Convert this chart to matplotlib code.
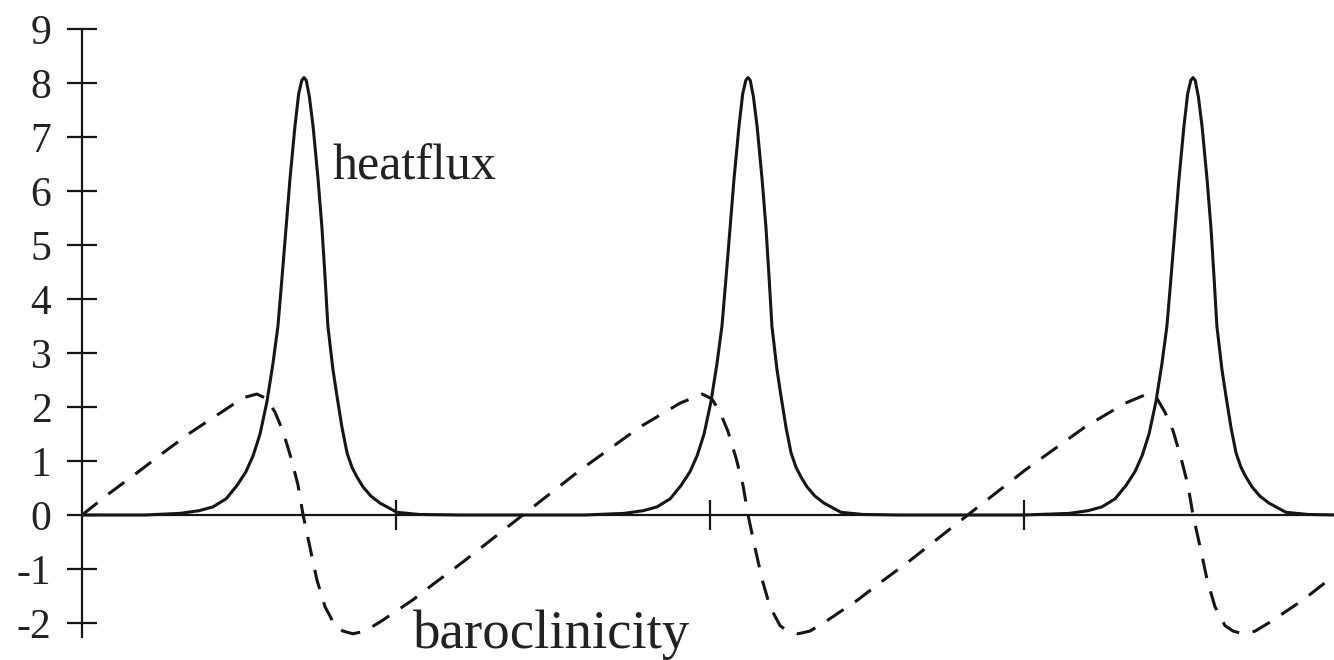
import matplotlib
matplotlib.use("Agg")
from matplotlib import pyplot as plt

plt.rcParams['font.family'] = ['Liberation Serif', 'DejaVu Serif']
plt.rcParams['axes.unicode_minus'] = False

# heatflux: three sharp pulses
heat_x = [0.0, 0.2, 0.312, 0.373, 0.417, 0.459, 0.494, 0.522, 0.545, 0.567, 0.589,
          0.608, 0.624, 0.637, 0.650, 0.662, 0.678, 0.690, 0.700, 0.707, 0.714,
          0.724, 0.736, 0.752, 0.764, 0.774, 0.783, 0.799, 0.812, 0.828, 0.844,
          0.860, 0.876, 0.895, 0.920, 0.949, 1.003, 1.073, 1.2, 1.6,
          1.726, 1.787, 1.831, 1.873, 1.908, 1.936, 1.959, 1.981, 2.003, 2.022,
          2.038, 2.051, 2.064, 2.076, 2.092, 2.104, 2.114, 2.121, 2.128, 2.138,
          2.150, 2.166, 2.178, 2.188, 2.197, 2.213, 2.226, 2.242, 2.258, 2.274,
          2.290, 2.309, 2.334, 2.363, 2.417, 2.487, 2.6, 3.0,
          3.143, 3.204, 3.248, 3.290, 3.325, 3.353, 3.376, 3.398, 3.420, 3.439,
          3.455, 3.468, 3.481, 3.493, 3.509, 3.521, 3.531, 3.538, 3.545, 3.555,
          3.567, 3.583, 3.595, 3.605, 3.614, 3.630, 3.643, 3.659, 3.675, 3.691,
          3.707, 3.726, 3.751, 3.780, 3.834, 3.904, 4.0]
heat_y = [0.0, 0.0, 0.03, 0.08, 0.15, 0.30, 0.55, 0.80, 1.10, 1.50, 2.10,
          2.80, 3.50, 4.40, 5.33, 6.20, 7.19, 7.80, 8.05, 8.10, 8.05,
          7.75, 7.19, 6.20, 5.33, 4.40, 3.50, 2.70, 2.20, 1.62, 1.15,
          0.88, 0.70, 0.52, 0.35, 0.22, 0.05, 0.01, 0.0, 0.0,
          0.03, 0.08, 0.15, 0.30, 0.55, 0.80, 1.10, 1.50, 2.10, 2.80,
          3.50, 4.40, 5.33, 6.20, 7.19, 7.80, 8.05, 8.10, 8.05, 7.75,
          7.19, 6.20, 5.33, 4.40, 3.50, 2.70, 2.20, 1.62, 1.15, 0.88,
          0.70, 0.52, 0.35, 0.22, 0.05, 0.01, 0.0, 0.0,
          0.03, 0.08, 0.15, 0.30, 0.55, 0.80, 1.10, 1.50, 2.10, 2.80,
          3.50, 4.40, 5.33, 6.20, 7.19, 7.80, 8.05, 8.10, 8.05, 7.75,
          7.19, 6.20, 5.33, 4.40, 3.50, 2.70, 2.20, 1.62, 1.15, 0.88,
          0.70, 0.52, 0.35, 0.22, 0.05, 0.01, 0.0]

# baroclinicity: sawtooth-like dashed curve
baro_x = [0.000, 0.089, 0.175, 0.258, 0.344, 0.430, 0.513, 0.557, 0.589, 0.615,
          0.640, 0.666, 0.688, 0.704, 0.726, 0.748, 0.774, 0.806, 0.831, 0.863,
          0.901, 0.952, 1.054, 1.121, 1.213, 1.395, 1.586, 1.777, 1.904, 1.975,
          2.006, 2.032, 2.057, 2.083, 2.105, 2.121, 2.143, 2.166, 2.191, 2.223,
          2.248, 2.280, 2.318, 2.369, 2.471, 2.538, 2.631, 2.812, 3.003, 3.194,
          3.322, 3.392, 3.424, 3.449, 3.475, 3.500, 3.522, 3.538, 3.561, 3.583,
          3.608, 3.640, 3.666, 3.697, 3.736, 3.787, 3.889, 3.955, 4.000]
baro_y = [0.00, 0.41, 0.78, 1.15, 1.52, 1.85, 2.17, 2.24, 2.15, 1.90,
          1.55, 1.05, 0.55, 0.00, -0.60, -1.20, -1.70, -2.05, -2.15, -2.20,
          -2.15, -1.97, -1.57, -1.27, -0.87, -0.04, 0.83, 1.63, 2.07, 2.24,
          2.15, 1.90, 1.55, 1.05, 0.55, 0.00, -0.60, -1.20, -1.70, -2.05,
          -2.15, -2.20, -2.15, -1.97, -1.57, -1.27, -0.87, -0.04, 0.83, 1.63,
          2.07, 2.24, 2.15, 1.90, 1.55, 1.05, 0.55, 0.00, -0.60, -1.20,
          -1.70, -2.05, -2.15, -2.20, -2.15, -1.97, -1.57, -1.27, -1.08]

y_ticks = [-2, -1, 0, 1, 2, 3, 4, 5, 6, 7, 8, 9]
x_ticks = [1, 2, 3]

fig = plt.figure(figsize=(13.34, 6.6), dpi=100)
ax = fig.add_axes([82 / 1334, 0.0356, 1 - 82 / 1334, 0.9205])

ax.plot(heat_x, heat_y, color="#161616", lw=2.2, solid_joinstyle="round")
ax.plot(baro_x, baro_y, color="#161616", lw=2.2, dashes=(6.5, 4.5),
        dash_joinstyle="round")

ax.set_xlim(0, 3.987)
ax.set_ylim(-2.25, 9.0)

ax.spines['left'].set_position(('data', 0))
ax.spines['bottom'].set_position(('data', 0))
ax.spines['top'].set_visible(False)
ax.spines['right'].set_visible(False)
for s in ('left', 'bottom'):
    ax.spines[s].set_linewidth(1.6)
    ax.spines[s].set_color("#161616")

ax.set_yticks(y_ticks)
ax.set_yticklabels([str(t) for t in y_ticks])
ax.set_xticks(x_ticks)
ax.set_xticklabels([])
ax.tick_params(axis='both', direction='inout', length=22, width=1.6,
               color="#161616")
ax.tick_params(axis='y', labelsize=30, pad=11, labelcolor="#222222")

ax.text(0.799, 6.22, "heatflux", fontsize=36, color="#222222",
        ha="left", va="baseline")
ax.text(1.054, -2.46, "baroclinicity", fontsize=39.5, color="#222222",
        ha="left", va="baseline", clip_on=False)

fig.savefig("out.png", dpi=100)
